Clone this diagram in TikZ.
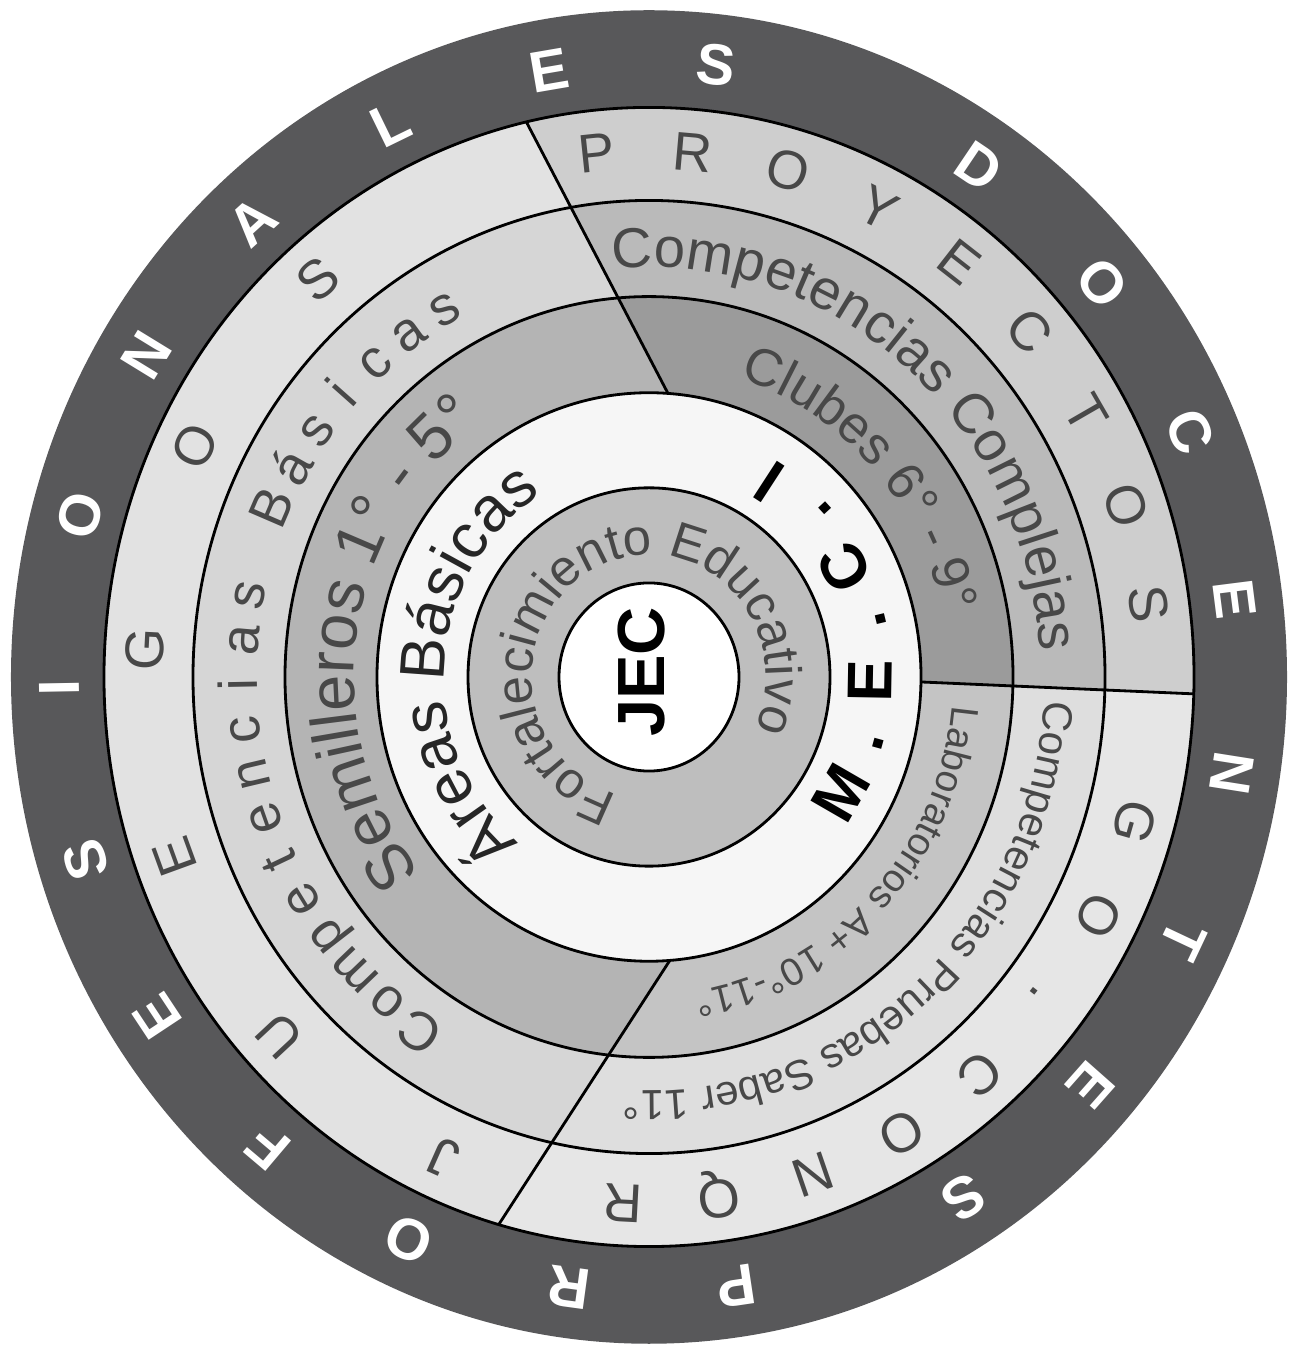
\documentclass[tikz,border=0pt]{standalone}
\usepackage{fontspec}
\setmainfont{Liberation Sans}
\usetikzlibrary{calc, decorations.text}

\definecolor{ringdark}{RGB}{88,88,90}
\definecolor{outerleft}{RGB}{226,226,226}
\definecolor{outerup}{RGB}{206,206,206}
\definecolor{outerdown}{RGB}{230,230,230}
\definecolor{compleft}{RGB}{214,214,214}
\definecolor{compup}{RGB}{186,186,186}
\definecolor{compdown}{RGB}{222,222,222}
\definecolor{clubleft}{RGB}{180,180,180}
\definecolor{clubup}{RGB}{155,155,155}
\definecolor{clubdown}{RGB}{196,196,196}
\definecolor{mecifill}{RGB}{246,246,246}
\definecolor{fortfill}{RGB}{190,190,190}
\definecolor{inkgray}{RGB}{72,72,72}

\begin{document}
\begin{tikzpicture}[
  x=0.1mm, y=0.1045mm,
  ring/.style={draw=black, line width=0.8pt},
  divider/.style={draw=black, line width=0.8pt},
  darkletter/.style={anchor=base, inner sep=0pt, text=white, font=\fontsize{16.5}{18}\selectfont\bfseries},
  lightletter/.style={anchor=base, inner sep=0pt, text=inkgray, font=\fontsize{15.5}{17}\selectfont},
  completter/.style={anchor=base, inner sep=0pt, text=inkgray, font=\fontsize{15.5}{17}\selectfont},
  meciletter/.style={anchor=base, inner sep=0pt, text=black, font=\fontsize{18}{20}\selectfont\bfseries},
  arctext/.style={decorate, decoration={text along path, text align=center}}
]
\useasboundingbox (-64.9mm,-68.1mm) rectangle (65.4mm,67.7mm);

% rings (left half colours first)
\fill[ringdark] (0,0) circle[radius=638];
\fill[outerleft] (0,0) circle[radius=545];
\fill[compleft] (0,0) circle[radius=456];
\fill[clubleft] (0,0) circle[radius=364];
\fill[mecifill] (0,0) circle[radius=272];
\fill[fortfill] (0,0) circle[radius=181];
\fill[white] (0,0) circle[radius=90];

% ends of the three dividers
\coordinate (a3) at (86:272);
\coordinate (a6) at (103:545);
\coordinate (b3) at (-1:272);
\coordinate (b6) at (-1.7:545);
\coordinate (c3) at (-85.6:272);
\coordinate (c6) at (-106:545);

% upper right quarter
\begin{scope}
  \clip ($(a3)!-0.8!(a6)$) -- ($(a3)!1.6!(a6)$) -- (750,750) -- ($(b3)!2!(b6)$) -- ($(b3)!-0.5!(b6)$) -- cycle;
  \fill[outerup, even odd rule] (0,0) circle[radius=545] (0,0) circle[radius=456];
  \fill[compup, even odd rule] (0,0) circle[radius=456] (0,0) circle[radius=364];
  \fill[clubup, even odd rule] (0,0) circle[radius=364] (0,0) circle[radius=272];
\end{scope}
% lower right quarter
\begin{scope}
  \clip ($(b3)!-0.5!(b6)$) -- ($(b3)!2!(b6)$) -- (750,-750) -- ($(c3)!1.6!(c6)$) -- ($(c3)!-0.8!(c6)$) -- cycle;
  \fill[outerdown, even odd rule] (0,0) circle[radius=545] (0,0) circle[radius=456];
  \fill[compdown, even odd rule] (0,0) circle[radius=456] (0,0) circle[radius=364];
  \fill[clubdown, even odd rule] (0,0) circle[radius=364] (0,0) circle[radius=272];
\end{scope}

\foreach \r in {90,181,272,364,456,545}
  \draw[ring] (0,0) circle[radius=\r];
\draw[divider] (a3) -- (a6);
\draw[divider] (b3) -- (b6);
\draw[divider] (c3) -- (c6);

% outer dark band
\foreach \ch [count=\i from 0] in {P,R,O,F,E,S,I,O,N,A,L,E,S}
  \node[darkletter, rotate={188.5-16.25*\i}] (dk\i) at ({278.5-16.25*\i}:570) {\ch};
\foreach \ch [count=\i from 0] in {D,O,C,E,N,T,E,S}
  \node[darkletter, rotate={-34-16.25*\i}] (dd\i) at ({56-16.25*\i}:570) {\ch};

% light band
\foreach \ch [count=\i from 0] in {P,R,O,Y,E,C,T,O,S}
  \node[lightletter, rotate={6-11*\i}] (py\i) at ({96-11*\i}:486) {\ch};
\foreach \ch [count=\i from 0] in {G,O,.,C,O,N,Q,R}
  \node[lightletter, rotate={-106-11*\i}] (gc\i) at ({-16-11*\i}:486) {\ch};
\foreach \ch [count=\i from 0] in {J,U,E,G,O,S}
  \node[lightletter, rotate={156-23*\i}] (jg\i) at ({246-23*\i}:486) {\ch};

% competencias band
\foreach \ch/\k in {C/0,o/1,m/2,p/3,e/4,t/5,e/6,n/7,c/8,i/9,a/10,s/11,B/13,á/14,s/15,i/16,c/17,a/18,s/19}
  \node[completter, rotate={146-6.1*\k}] (cb\k) at ({236-6.1*\k}:392) {\ch};
\path[arctext, decoration={text={|\fontsize{16}{18}\selectfont\color{inkgray}|Competencias Complejas}}]
  (150:392) arc[start angle=150, end angle=-50, radius=392];
\path[arctext, decoration={text={|\fontsize{12}{14}\selectfont\color{inkgray}|Competencias Pruebas Saber 11°}}]
  (51:396) arc[start angle=51, end angle=-149, radius=396];

% clubes band
\path[arctext, decoration={text={|\fontsize{18.5}{20}\selectfont\color{inkgray}|Semilleros 1° - 5°}}]
  (272:295) arc[start angle=272, end angle=72, radius=295];
\path[arctext, decoration={text={|\fontsize{15}{17}\selectfont\color{inkgray}|Clubes 6° - 9°}}]
  (143:300) arc[start angle=143, end angle=-57, radius=300];
\path[arctext, decoration={text={|\fontsize{11}{13}\selectfont\color{inkgray}|Laboratorios A+ 10°-11°}}]
  (56:304) arc[start angle=56, end angle=-144, radius=304];

% meci band
\path[arctext, decoration={text={|\fontsize{18}{20}\selectfont\color{black!85}|Áreas Básicas}}]
  (276:205) arc[start angle=276, end angle=76, radius=205];
\foreach \ch [count=\i from 0] in {M,.,E,.,C,.,I}
  \node[meciletter, rotate={60+14.5*\i}] (me\i) at ({-30+14.5*\i}:243) {\ch};

% inner band and centre
\path[arctext, decoration={text={|\fontsize{14.5}{16}\selectfont\color{inkgray}|Fortalecimiento Educativo}}]
  (285:117) arc[start angle=285, end angle=-55, radius=117];
\node[font=\fontsize{19}{21}\selectfont\bfseries, rotate=90] (jec) at (-7,5) {JEC};
\end{tikzpicture}
\end{document}
